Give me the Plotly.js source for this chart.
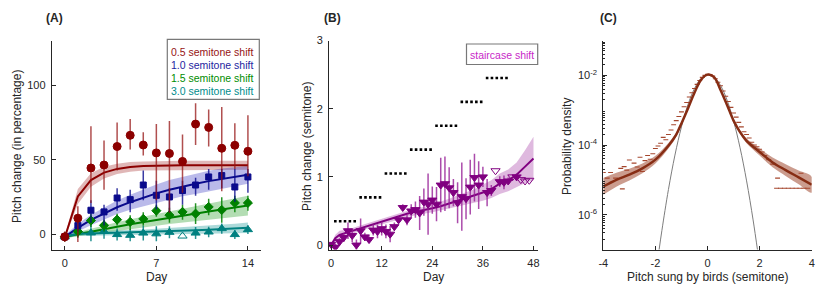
<!DOCTYPE html>
<html><head><meta charset="utf-8">
<script src="https://cdn.plot.ly/plotly-3.0.1.min.js"></script>
<style>html,body{margin:0;padding:0;background:#fff}#chart{width:830px;height:287px}</style>
</head><body><div id="chart"></div>
<script>
// ---------- Panel A data ----------
const daysA = [0,1,2,3,4,5,6,7,8,9,10,11,12,13,14];
const redMean = [-1.5, 11, 44.6, 46.6, 59, 66.5, 60, 54.7, 54.3, 49, 74, 71.8, 57.8, 59.8, 55.8];
const redHigh = [2, 19, 72.5, 63, 75, 77.4, 68.5, 74, 76, 67, 88, 83.7, 85.5, 74.5, 80];
const redLow  = [-5, -5, 21.2, 30, 43, 57, 53, 23, 14.7, 28, 60, 59, 29, 44, 39];
const blueMean = [-1.5, 6, 16.3, 15.2, 24.5, 23.4, 33.2, 26.3, 25.2, 29.5, 33.2, 38.6, 39.5, 31.9, 38.6];
const blueHigh = [0, 10, 23, 20, 31, 30, 43, 36, 31, 36, 38, 44, 44, 44, 44];
const blueLow  = [-3, 2, 8, 6, 16, 15, 23, 17, 15, 20, 26, 30, 31, 22, 28];
const greenMean = [-1.5, 2, 9.4, 6.2, 10, 8.5, 10.5, 16, 13, 15.2, 14, 18.5, 16.5, 21.2, 21.2];
const greenHigh = [0, 6, 14, 10, 14, 13, 15, 20, 18, 20, 21, 24, 25, 26, 26];
const greenLow  = [-3, -2, 5, 2, 6, 3, 6, 12, 8, 10, 7, 13, 8, 15, 16];
const tealMean = [-1.5, 3, 1.1, 2.2, 0, -0.5, 1, 0.5, 1.5, -1, 1, 1.7, 4, 0, 3.3];
const tealErr  = [1, 5, 5.5, 5, 4, 4, 5, 5, 4, 0, 4, 3.5, 3.5, 3, 3];
const tealOpen = [0,0,0,0,0,0,0,0,0,1,0,0,0,0,0];
const redFit   = [-2, 25.5, 36.5, 41.5, 44, 45.3, 46, 46.3, 46.4, 46.5, 46.5, 46.5, 46.5, 46.5, 46.5];
const redBand  = [1, 5, 4.5, 4, 3.5, 3.3, 3, 3, 3, 3, 3, 3, 3, 3, 3];
const blueFit  = [-1.5, 4.5, 9.8, 14.3, 18.3, 21.7, 24.8, 27.6, 30, 32.2, 34.1, 35.8, 37.3, 38.7, 40];
const blueBand = [1, 2.5, 3.5, 4, 4.5, 5, 5.5, 6, 6.5, 6.5, 7, 7, 7, 6.5, 6];
const greenFit = [-1.5, 0.3, 2, 3.7, 5.3, 6.9, 8.4, 9.9, 11.3, 12.7, 14.1, 15.5, 16.8, 18.1, 19.4];
const greenBand= [1, 1.5, 2, 2.5, 3, 3.3, 3.6, 4, 4.3, 4.7, 5, 5.4, 5.8, 6.2, 6.6];
const tealFit  = [-1.5, 0.5, 0.8, 1, 1.2, 1.4, 1.6, 1.9, 2.2, 2.5, 2.9, 3.3, 3.7, 4.1, 4.6];
const tealBand = [1, 1.5, 1.5, 1.5, 1.6, 1.7, 1.8, 2, 2.2, 2.4, 2.6, 2.8, 3, 3.2, 3.5];
const legendA = ["0.5 semitone shift","1.0 semitone shift","1.5 semitone shift","3.0 semitone shift"];

// ---------- Panel B data ----------
const daysB = [0,1,2,3,4,5,6,7,8,9,10,11,12,13,14,15,16,17,18,19,20,21,22,23,24,25,26,27,28,29,30,31,32,33,34,35,36,37,38,39,40,41,42,43,44,45,46,47];
const stairMean = [0.01,-0.03,0.05,0.11,0.21,0.14,0.0,0.21,0.12,0.08,0.22,0.2,0.24,0.2,0.16,0.27,0.37,0.55,0.37,0.5,0.52,0.47,0.63,0.6,0.66,0.6,0.88,0.9,0.84,0.77,0.62,0.71,0.68,0.85,0.99,0.88,1.0,0.77,0.8,1.09,0.93,0.92,0.94,1.0,1.0,0.96,0.94,0.95];
const stairErr  = [0.03,0.05,0.05,0.06,0.12,0.1,0.08,0.18,0.06,0.05,0.08,0.1,0.1,0.1,0.12,0.06,0.05,0.05,0.08,0.1,0.12,0.25,0.2,0.45,0.2,0.25,0.4,0.4,0.3,0.2,0.3,0.5,0.3,0.4,0.35,0.35,0.15,0.2,0.08,0,0.08,0.1,0.05,0,0.05,0,0,0];
const stairOpen = [0,0,0,0,0,0,0,0,0,0,0,0,0,0,0,0,0,0,0,0,0,0,0,0,0,0,0,0,0,0,0,0,0,0,0,0,0,0,0,1,0,0,0,1,0,1,1,1];
const fitDaysB = [0,1,2,3,4,6,8,10,12,14,16,18,20,22,24,26,28,30,32,34,36,38,40,42,44,46,48];
const stairFit = [0,0.1,0.15,0.17,0.19,0.23,0.27,0.31,0.34,0.38,0.42,0.46,0.49,0.51,0.54,0.57,0.61,0.65,0.69,0.72,0.77,0.82,0.9,0.95,1.03,1.15,1.27];
const stairBand= [0.02,0.05,0.06,0.05,0.04,0.04,0.04,0.04,0.04,0.04,0.05,0.05,0.05,0.05,0.06,0.06,0.07,0.08,0.09,0.1,0.12,0.13,0.15,0.16,0.18,0.24,0.32];
const stepLevels = [0.35,0.7,1.05,1.4,1.75,2.1,2.45];
const stepStart  = [1,7,13,19,25,31,37];

// ---------- Panel C data (log10 of density) ----------
const histX = [-4.0,-3.72,-3.85,-3.53,-3.27,-3.33,-3.2,-3.1,-3.0,-2.82,-2.7,-2.59,-2.5,-2.4,-2.3,-2.2,-2.1,-2.0,-1.9,-1.8,-1.7,-1.6,-1.5,-1.4,-1.3,-1.2,-1.1,-1.0,-0.9,-0.8,-0.7,-0.6,-0.5,-0.4,-0.3,-0.2,-0.1,0,0.1,0.2,0.3,0.4,0.5,0.6,0.7,0.8,0.9,1.0,1.1,1.2,1.3,1.4,1.5,1.6,1.7,1.8,1.9,2.0,2.1,2.2,2.35,2.5,2.69,3.59,2.65,2.8,2.95,3.1,3.25,3.4,3.55,3.7,3.85];
const histLog = [-4.79,-4.79,-4.95,-4.95,-5.26,-4.67,-4.62,-4.72,-4.43,-4.52,-4.63,-4.35,-4.76,-4.45,-4.3,-4.41,-4.25,-4.1,-4.03,-3.95,-3.78,-3.85,-3.7,-3.57,-3.42,-3.3,-3.18,-3.05,-2.9,-2.78,-2.62,-2.5,-2.38,-2.26,-2.15,-2.06,-2.0,-1.97,-1.98,-2.02,-2.1,-2.2,-2.3,-2.45,-2.6,-2.75,-2.92,-3.08,-3.2,-3.35,-3.48,-3.62,-3.7,-3.8,-3.92,-4.0,-4.05,-4.12,-4.2,-4.3,-4.42,-4.55,-4.95,-4.81,-5.24,-5.24,-5.24,-5.24,-5.24,-5.24,-5.24,-5.24,-5.24];
const fitX   = [-4,-3.5,-3,-2.5,-2,-1.5,-1.2,-1,-0.75,-0.5,-0.25,0,0.25,0.5,0.75,1,1.25,1.5,2,2.5,3,3.5,4];
const fitLog = [-5.19,-5.0,-4.85,-4.67,-4.42,-4.02,-3.7,-3.38,-2.95,-2.5,-2.13,-1.98,-2.05,-2.42,-2.85,-3.3,-3.63,-3.88,-4.2,-4.5,-4.72,-4.93,-5.14];
const fitHalf= [0.24,0.2,0.17,0.14,0.11,0.08,0.06,0.05,0.04,0.03,0.03,0.02,0.02,0.03,0.03,0.04,0.05,0.07,0.1,0.14,0.17,0.2,0.23];
const gaussX   = [-1.87,-1.75,-1.5,-1.25,-1,-0.75,-0.5,-0.25,0,0.25,0.5,0.75,1,1.25,1.5,1.75,1.93];
const gaussLog = [-7.07,-6.45,-5.28,-4.29,-3.48,-2.84,-2.38,-2.09,-1.98,-2.05,-2.29,-2.71,-3.31,-4.08,-5.03,-6.15,-7.07];

// ---------- helpers ----------
const W = 830, H = 287;
const PX = p => p / W, PY = p => 1 - p / H;
const FONT = "Liberation Sans, Arial, Helvetica, sans-serif";
const AX = '#262626';
const pow10 = a => a.map(v => Math.pow(10, v));

function band(x, fit, half, xa, ya, color, shape) {
  const up = fit.map((v, i) => v + half[i]);
  const lo = fit.map((v, i) => v - half[i]).reverse();
  return {x: x.concat(x.slice().reverse()), y: up.concat(lo), mode: 'lines', fill: 'toself',
          fillcolor: color, line: {width: 0, shape: shape || 'linear'}, xaxis: xa, yaxis: ya, hoverinfo: 'skip'};
}
function fitLine(x, y, xa, ya, color, w) {
  return {x: x, y: y, mode: 'lines', line: {color: color, width: w || 2}, xaxis: xa, yaxis: ya};
}
function pts(x, y, hi, lo, sym, color, ecolor, size, xa, ya) {
  return {x: x, y: y, mode: 'markers', xaxis: xa, yaxis: ya,
    marker: {symbol: sym, size: size, color: color, line: {color: color, width: 1}},
    error_y: {type: 'data', symmetric: false, array: hi.map((h, i) => h - y[i]),
              arrayminus: lo.map((l, i) => y[i] - l), color: ecolor, thickness: 1.5, width: 0}};
}

const cRed = 'rgb(140,0,0)', cBlue = 'rgb(10,10,140)', cGreen = 'rgb(0,128,0)', cTeal = 'rgb(0,128,128)', cPurp = 'rgb(128,0,128)';
const traces = [];
// Panel A
traces.push(band(daysA, redFit, redBand, 'x', 'y', 'rgba(160,30,30,0.32)'));
traces.push(band(daysA, blueFit, blueBand, 'x', 'y', 'rgba(40,40,190,0.32)'));
traces.push(band(daysA, greenFit, greenBand, 'x', 'y', 'rgba(20,150,20,0.32)'));
traces.push(band(daysA, tealFit, tealBand, 'x', 'y', 'rgba(0,140,140,0.32)'));
traces.push(fitLine(daysA, redFit, 'x', 'y', cRed));
traces.push(fitLine(daysA, blueFit, 'x', 'y', cBlue));
traces.push(fitLine(daysA, greenFit, 'x', 'y', cGreen));
traces.push(fitLine(daysA, tealFit, 'x', 'y', cTeal));
traces.push(pts(daysA, tealMean, tealMean.map((v,i)=>v+tealErr[i]), tealMean.map((v,i)=>v-tealErr[i]),
  tealOpen.map(o => o ? 'triangle-up-open' : 'triangle-up'), cTeal, 'rgba(0,128,128,0.85)', 8, 'x', 'y'));
traces.push(pts(daysA, greenMean, greenHigh, greenLow, 'diamond', cGreen, 'rgba(0,128,0,0.85)', 7, 'x', 'y'));
traces.push(pts(daysA, blueMean, blueHigh, blueLow, 'square', cBlue, 'rgba(10,10,140,0.8)', 6, 'x', 'y'));
traces.push(pts(daysA, redMean, redHigh, redLow, 'circle', cRed, 'rgba(150,20,20,0.75)', 8, 'x', 'y'));
// Panel B
traces.push(band(fitDaysB, stairFit, stairBand, 'x2', 'y2', 'rgba(170,70,170,0.38)'));
traces.push(fitLine(fitDaysB, stairFit, 'x2', 'y2', cPurp, 2));
traces.push(pts(daysB, stairMean, stairMean.map((v,i)=>v+stairErr[i]), stairMean.map((v,i)=>v-stairErr[i]),
  stairOpen.map(o => o ? 'triangle-down-open' : 'triangle-down'), cPurp, 'rgba(150,30,150,0.8)', 8, 'x2', 'y2'));
const dotX = [], dotY = [];
stepLevels.forEach((lv, k) => { for (let i = 0; i < 5; i++) { dotX.push(stepStart[k] + i * 1.15); dotY.push(lv); } });
traces.push({x: dotX, y: dotY, mode: 'markers', marker: {symbol: 'square', size: 2.6, color: '#000'}, xaxis: 'x2', yaxis: 'y2'});
// Panel C
traces.push(band(fitX, fitLog, fitHalf, 'x3', 'y3', 'rgba(160,75,50,0.55)', 'spline'));
(function(){ const t = traces[traces.length-1]; t.y = pow10(t.y); })();
traces.push({x: gaussX, y: pow10(gaussLog), mode: 'lines', line: {color: 'rgb(125,125,125)', width: 1, shape: 'spline'}, xaxis: 'x3', yaxis: 'y3'});
traces.push({x: histX, y: pow10(histLog), mode: 'markers', marker: {symbol: 'line-ew', size: 3.5, line: {color: 'rgb(165,70,45)', width: 1.1}}, xaxis: 'x3', yaxis: 'y3'});
traces.push({x: fitX, y: pow10(fitLog), mode: 'lines', line: {color: 'rgb(135,45,20)', width: 2.5, shape: 'spline'}, xaxis: 'x3', yaxis: 'y3'});

const yDom = [PY(249.5), PY(40.5)];
const base = {showline: true, linecolor: AX, linewidth: 1, ticks: 'inside', ticklen: 4, tickcolor: AX,
  showgrid: false, zeroline: false, tickfont: {family: FONT, size: 11, color: AX}, ticklabelstandoff: 3, fixedrange: true};
const minorVals = [];
for (let e = -7; e <= -2; e++) for (let m = 2; m <= 9; m++) minorVals.push(m * Math.pow(10, e));

const layout = {
  width: W, height: H, margin: {l: 0, r: 0, t: 0, b: 0}, paper_bgcolor: '#fff', plot_bgcolor: 'rgba(0,0,0,0)',
  showlegend: false, hovermode: false, font: {family: FONT, color: AX},
  xaxis: Object.assign({}, base, {domain: [PX(51.7), PX(261)], range: [-1, 15], tickvals: [0, 7, 14], anchor: 'y'}),
  yaxis: Object.assign({}, base, {domain: yDom, range: [-10, 130], tickvals: [0, 50, 100], anchor: 'x'}),
  xaxis2: Object.assign({}, base, {domain: [PX(329), PX(537.7)], range: [-0.5, 49], tickvals: [0, 12, 24, 36, 48], anchor: 'y2'}),
  yaxis2: Object.assign({}, base, {domain: yDom, range: [-0.065, 3], tickvals: [0, 1, 2, 3], anchor: 'x2'}),
  xaxis3: Object.assign({}, base, {domain: [PX(603.3), PX(811.7)], range: [-4, 4], tickvals: [-4, -2, 0, 2, 4], ticktext: ['-4','-2','0','2','4'], anchor: 'y3'}),
  yaxis3: Object.assign({}, base, {domain: yDom, type: 'log', range: [-7, -1], tickvals: [1e-6, 1e-4, 1e-2],
    ticktext: ['10<sup>-6</sup>', '10<sup>-4</sup>', '10<sup>-2</sup>'], anchor: 'x3',
    minor: {tickvals: minorVals, ticks: 'inside', ticklen: 2, tickcolor: AX, showgrid: false}}),
  shapes: [
    {type: 'rect', xref: 'paper', yref: 'paper', x0: PX(167.3), x1: PX(259.3), y0: PY(99.3), y1: PY(39.3), line: {color: 'rgb(120,120,120)', width: 1.2}, fillcolor: '#fff', layer: 'above'},
    {type: 'rect', xref: 'paper', yref: 'paper', x0: PX(466.5), x1: PX(537.7), y0: PY(64.5), y1: PY(44), line: {color: 'rgb(120,120,120)', width: 1.2}, fillcolor: '#fff', layer: 'above'}
  ],
  annotations: []
};
function ann(text, x, y, opts) {
  layout.annotations.push(Object.assign({text: text, x: PX(x), y: PY(y), xref: 'paper', yref: 'paper', showarrow: false,
    xanchor: 'center', yanchor: 'middle', font: {family: FONT, size: 12, color: AX}}, opts || {}));
}
ann('<b>(A)</b>', 54, 18);
ann('<b>(B)</b>', 332, 18);
ann('<b>(C)</b>', 608, 18);
ann('Pitch change (in percentage)', 17, 147, {textangle: -90});
ann('Day', 156, 277);
ann('Pitch change (semitone)', 307, 147, {textangle: -90});
ann('Day', 433, 277);
ann('Probability density', 567, 147, {textangle: -90});
ann('Pitch sung by birds (semitone)', 707, 277);
const legCol = ['rgb(150,20,20)', 'rgb(30,30,160)', 'rgb(0,140,0)', 'rgb(0,140,140)'];
legendA.forEach((t, i) => ann(t, 212, 52 + i * 13, {font: {family: FONT, size: 10.5, color: legCol[i]}}));
ann('staircase shift', 502, 54.5, {font: {family: FONT, size: 10.5, color: 'rgb(200,40,200)'}});

Plotly.newPlot('chart', traces, layout, {displayModeBar: false, staticPlot: true});
</script>
</body></html>
